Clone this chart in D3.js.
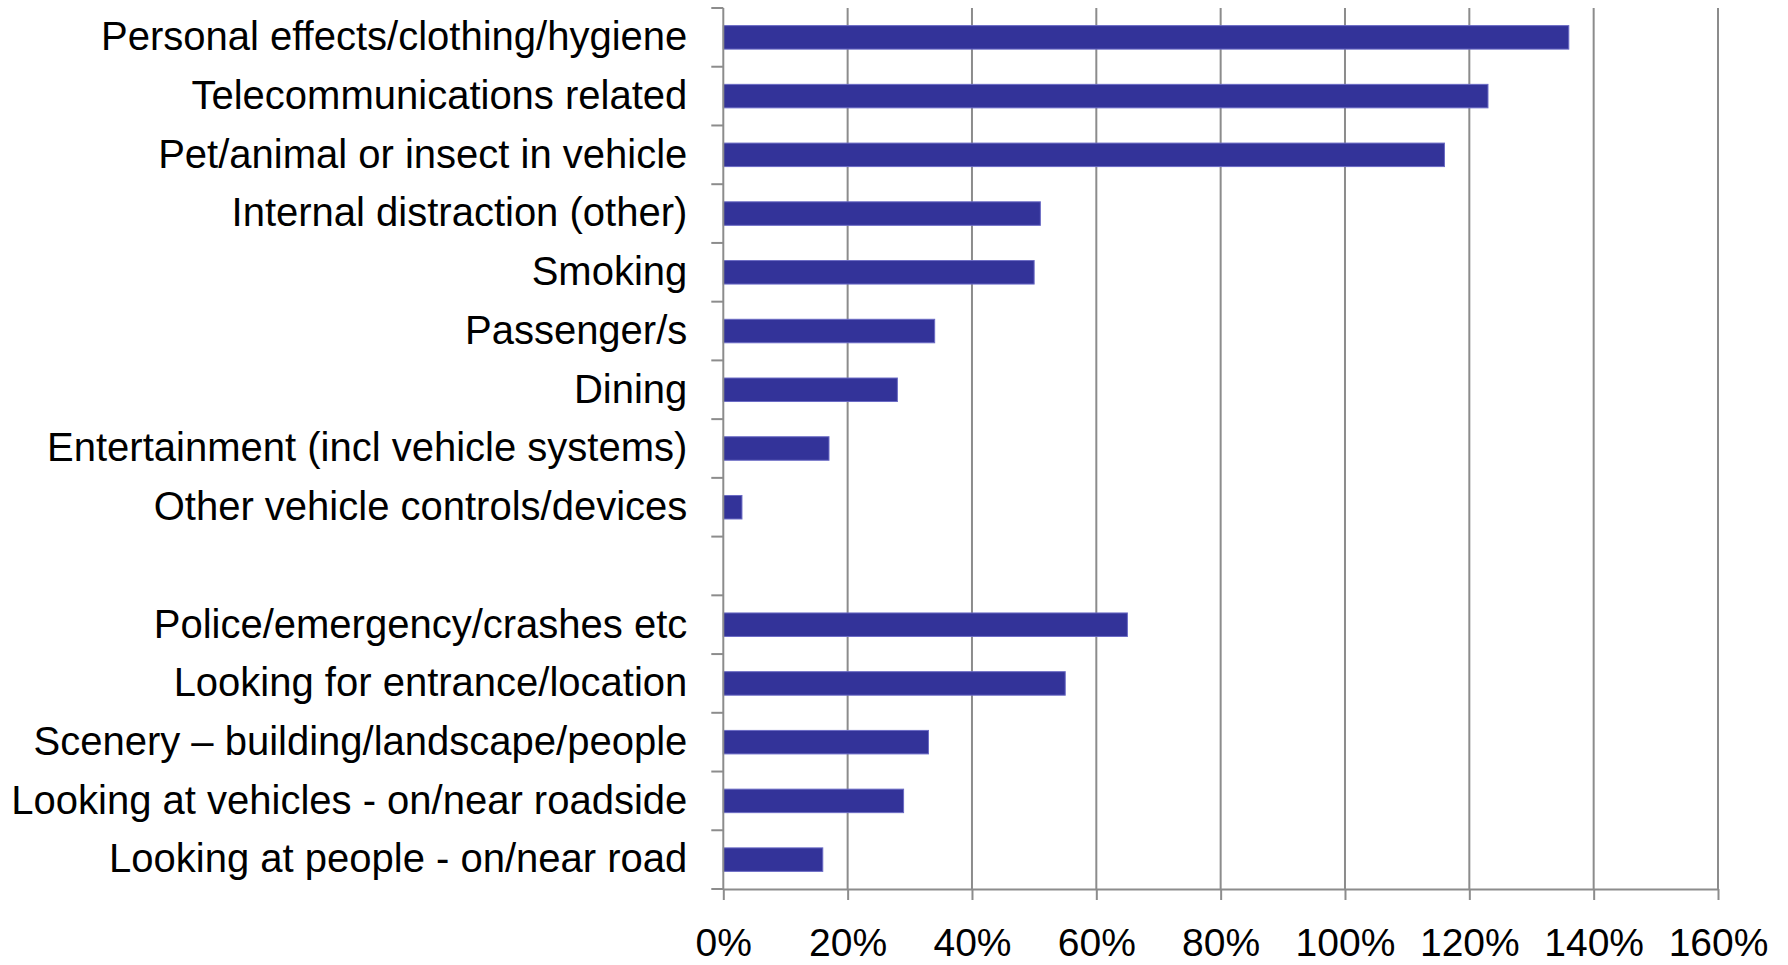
<!DOCTYPE html>
<html>
<head>
<meta charset="utf-8">
<script src="https://cdn.jsdelivr.net/npm/d3@7"></script>
<style>
  html, body { margin: 0; padding: 0; background: #ffffff; }
  svg { display: block; }
  text { font-family: "Liberation Sans", Arial, Helvetica, sans-serif; fill: #000; }
</style>
</head>
<body>
<svg id="chart" width="1788" height="965"></svg>
<script>
// Distraction sources; the empty entry leaves a gap between the in-vehicle and outside groups
const categories = [
  "Personal effects/clothing/hygiene",
  "Telecommunications related",
  "Pet/animal or insect in vehicle",
  "Internal distraction (other)",
  "Smoking",
  "Passenger/s",
  "Dining",
  "Entertainment (incl vehicle systems)",
  "Other vehicle controls/devices",
  "",
  "Police/emergency/crashes etc",
  "Looking for entrance/location",
  "Scenery \u2013 building/landscape/people",
  "Looking at vehicles - on/near roadside",
  "Looking at people - on/near road"
];
// Percentage values per category (null for the gap row)
const values = [136, 123, 116, 51, 50, 34, 28, 17, 3, null, 65, 55, 33, 29, 16];
// Tick values of the percentage axis
const xTicks = [0, 20, 40, 60, 80, 100, 120, 140, 160];

const svg = d3.select("#chart");
const plotLeft = 723.3, plotRight = 1718, plotTop = 8, plotBottom = 889;
const axisColor = "#8c8c8c";

const x = d3.scaleLinear().domain([0, 160]).range([plotLeft, plotRight]);
const y = d3.scaleBand().domain(categories).range([plotTop, plotBottom])
  .paddingInner(0.6).paddingOuter(0.3);

// vertical gridlines
svg.append("g").selectAll("line")
  .data(xTicks.slice(1))
  .join("line")
  .attr("x1", d => x(d)).attr("x2", d => x(d))
  .attr("y1", plotTop).attr("y2", plotBottom)
  .attr("stroke", axisColor).attr("stroke-width", 2);

// bars
const rows = categories.map((c, i) => ({ c, v: values[i] })).filter(d => d.v != null);
svg.append("g").selectAll("rect")
  .data(rows)
  .join("rect")
  .attr("x", x(0))
  .attr("y", d => y(d.c))
  .attr("width", d => x(d.v) - x(0))
  .attr("height", y.bandwidth())
  .attr("fill", "#333399")
  .attr("stroke", "#6a6ac4")
  .attr("stroke-width", 1);

// category labels
const yAxis = svg.append("g")
  .attr("transform", `translate(${plotLeft},0)`)
  .call(d3.axisLeft(y).tickSize(0).tickPadding(36));
yAxis.select(".domain").remove();
yAxis.selectAll("text").attr("font-size", 40).attr("font-family", null);

// category boundary ticks and the vertical axis line
const step = y.step();
const bounds = d3.range(categories.length + 1).map(i => plotTop + i * step);
svg.append("g").selectAll("line")
  .data(bounds)
  .join("line")
  .attr("x1", plotLeft - 12).attr("x2", plotLeft)
  .attr("y1", d => d).attr("y2", d => d)
  .attr("stroke", axisColor).attr("stroke-width", 2);
svg.append("line")
  .attr("x1", plotLeft).attr("x2", plotLeft)
  .attr("y1", plotTop).attr("y2", plotBottom)
  .attr("stroke", axisColor).attr("stroke-width", 2);

// percentage axis
const xAxis = svg.append("g")
  .attr("transform", `translate(0,${plotBottom})`)
  .call(d3.axisBottom(x).tickValues(xTicks).tickFormat(d => d + "%")
    .tickSize(11).tickPadding(28).tickSizeOuter(0));
xAxis.select(".domain").attr("stroke", axisColor).attr("stroke-width", 2);
xAxis.selectAll(".tick line").attr("stroke", axisColor).attr("stroke-width", 2);
xAxis.selectAll("text").attr("font-size", 39).attr("font-family", null);
</script>
</body>
</html>
